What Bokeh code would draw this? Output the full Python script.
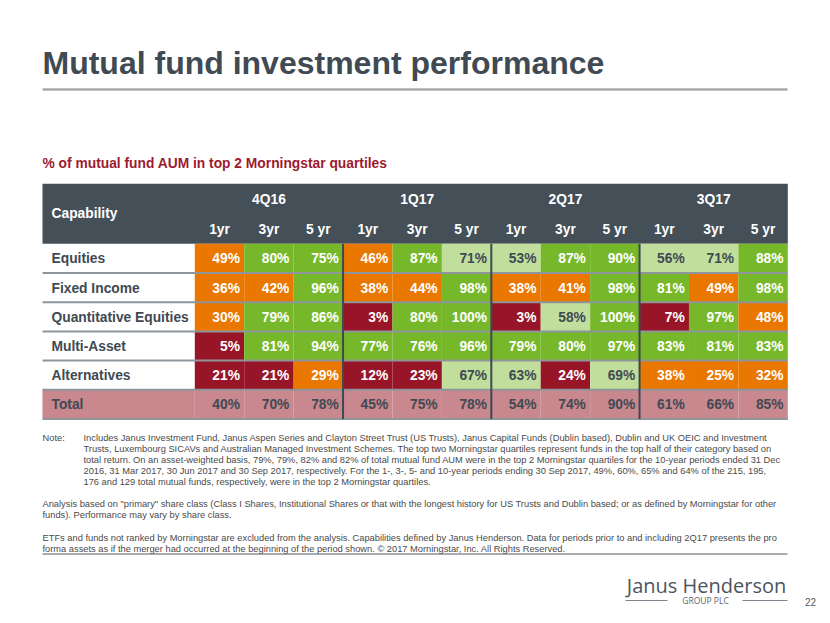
from bokeh.plotting import figure
from bokeh.models import Range1d
from bokeh.core.properties import value
from bokeh.embed import file_html
from bokeh.resources import INLINE

# ---------------- data ----------------
quarters = ["4Q16", "1Q17", "2Q17", "3Q17"]
periods = ["1yr", "3yr", "5 yr"]
capabilities = ["Equities", "Fixed Income", "Quantitative Equities", "Multi-Asset", "Alternatives", "Total"]
equities = [49, 80, 75, 46, 87, 71, 53, 87, 90, 56, 71, 88]
fixed_income = [36, 42, 96, 38, 44, 98, 38, 41, 98, 81, 49, 98]
quant_equities = [30, 79, 86, 3, 80, 100, 3, 58, 100, 7, 97, 48]
multi_asset = [5, 81, 94, 77, 76, 96, 79, 80, 97, 83, 81, 83]
alternatives = [21, 21, 29, 12, 23, 67, 63, 24, 69, 38, 25, 32]
total = [40, 70, 78, 45, 75, 78, 54, 74, 90, 61, 66, 85]
rows = [equities, fixed_income, quant_equities, multi_asset, alternatives, total]

title = "Mutual fund investment performance"
subtitle = "% of mutual fund AUM in top 2 Morningstar quartiles"
header_label = "Capability"
note_label = "Note:"
note_lines = [
    "Includes Janus Investment Fund, Janus Aspen Series and Clayton Street Trust (US Trusts), Janus Capital Funds (Dublin based), Dublin and UK OEIC and Investment",
    "Trusts, Luxembourg SICAVs and Australian Managed Investment Schemes. The top two Morningstar quartiles represent funds in the top half of their category based on",
    "total return. On an asset-weighted basis, 79%, 79%, 82% and 82% of total mutual fund AUM were in the top 2 Morningstar quartiles for the 10-year periods ended 31 Dec",
    "2016, 31 Mar 2017, 30 Jun 2017 and 30 Sep 2017, respectively. For the 1-, 3-, 5- and 10-year periods ending 30 Sep 2017, 49%, 60%, 65% and 64% of the 215, 195,",
    "176 and 129 total mutual funds, respectively, were in the top 2 Morningstar quartiles.",
]
analysis_lines = [
    "Analysis based on \"primary\" share class (Class I Shares, Institutional Shares or that with the longest history for US Trusts and Dublin based; or as defined by Morningstar for other",
    "funds). Performance may vary by share class.",
]
etf_lines = [
    "ETFs and funds not ranked by Morningstar are excluded from the analysis. Capabilities defined by Janus Henderson. Data for periods prior to and including 2Q17 presents the pro",
    "forma assets as if the merger had occurred at the beginning of the period shown. \u00a9 2017 Morningstar, Inc. All Rights Reserved.",
]
logo_main = "Janus Henderson"
logo_sub = "GROUP PLC"
page_number = "22"

# ---------------- style ----------------
FONT = value("Liberation Sans")
DARK = "#404a53"
HEADER = "#454f58"
ORANGE = "#e97700"
GREEN = "#77b82b"
LIGHT_GREEN = "#c1de9d"
RED = "#981427"
PINK = "#c9878e"
SUB_RED = "#9b1b30"
NOTE = "#4a4a4a"


def cell_color(v, is_total):
    if is_total:
        return PINK
    if v < 25:
        return RED
    if v < 50:
        return ORANGE
    if v < 75:
        return LIGHT_GREEN
    return GREEN


def text_color(v, is_total):
    if is_total or (50 <= v < 75):
        return DARK
    return "white"


W, H = 824, 615
p = figure(width=W, height=H, output_backend="svg", toolbar_location=None,
           x_range=Range1d(0, W), y_range=Range1d(H, 0),
           min_border=0, outline_line_color=None, background_fill_color="white")
p.axis.visible = False
p.xgrid.visible = False
p.ygrid.visible = False

# ---------------- title ----------------
p.text(x=[42], y=[62], text=[title], text_font=FONT, text_font_style="bold",
       text_font_size="32px", text_color=DARK, text_baseline="middle")
p.segment(x0=[42], y0=[89], x1=[787], y1=[89], line_color="#a7aaad", line_width=2.5)
p.text(x=[42], y=[163], text=[subtitle], text_font=FONT, text_font_style="bold",
       text_font_size="13.8px", text_color=SUB_RED, text_baseline="middle")

# ---------------- table geometry ----------------
TL, TR = 42.0, 787.3
LR = 194.3
ncol = len(quarters) * len(periods)
CW = (TR - LR) / ncol
HT, HB = 183.3, 243.3
RH = 29.2
TB = HB + RH * len(rows)

# header
p.quad(left=[TL], right=[TR], top=[HT], bottom=[HB], fill_color=HEADER, line_color=None)
p.text(x=[51], y=[213.3], text=[header_label], text_font=FONT, text_font_style="bold",
       text_font_size="13.8px", text_color="white", text_baseline="middle")
qx = [LR + CW * (3 * i + 1.5) for i in range(len(quarters))]
p.text(x=qx, y=[199] * len(quarters), text=quarters, text_font=FONT, text_font_style="bold",
       text_font_size="13.8px", text_color="white", text_baseline="middle", text_align="center")
px_, pt_ = [], []
for i in range(len(quarters)):
    for j, per in enumerate(periods):
        px_.append(LR + CW * (3 * i + j + 0.5))
        pt_.append(per)
p.text(x=px_, y=[229] * len(px_), text=pt_, text_font=FONT, text_font_style="bold",
       text_font_size="13.8px", text_color="white", text_baseline="middle", text_align="center")

# cells
L, R, T, B, FC, TX, TY, TT, TC = [], [], [], [], [], [], [], [], []
for r, vals in enumerate(rows):
    is_total = capabilities[r] == "Total"
    top = HB + r * RH
    for c, v in enumerate(vals):
        left = LR + c * CW
        L.append(left)
        R.append(left + CW)
        T.append(top)
        B.append(top + RH)
        FC.append(cell_color(v, is_total))
        TX.append(left + CW - 4.3)
        TY.append(top + RH / 2 + 0.5)
        TT.append(f"{v}%")
        TC.append(text_color(v, is_total))
p.quad(left=[TL], right=[LR], top=[HB + 5 * RH], bottom=[TB], fill_color=PINK, line_color=None)
p.quad(left=L, right=R, top=T, bottom=B, fill_color=FC, line_color=None)
p.text(x=TX, y=TY, text=TT, text_font=FONT, text_font_style="bold", text_font_size="13.8px",
       text_color=TC, text_baseline="middle", text_align="right")

# row labels
p.text(x=[51] * len(capabilities), y=[HB + RH * (r + 0.5) + 0.5 for r in range(len(capabilities))],
       text=capabilities, text_font=FONT, text_font_style="bold", text_font_size="13.8px",
       text_color=DARK, text_baseline="middle")

# row lines
ys = [HB + RH * r for r in range(1, len(rows) + 1)]
p.segment(x0=[TL] * len(ys), y0=ys, x1=[TR] * len(ys), y1=ys, line_color="#8e959b", line_width=2)
# quarter separators
xs = [LR + CW * 3 * k for k in range(1, len(quarters))]
p.segment(x0=xs, y0=[HB] * len(xs), x1=xs, y1=[TB] * len(xs), line_color="#3e4850", line_width=2)

# ---------------- notes ----------------
NFS = "9.3px"
p.text(x=[42], y=[437], text=[note_label], text_font=FONT, text_font_size=NFS,
       text_color=NOTE, text_baseline="middle")
p.text(x=[83] * len(note_lines), y=[437 + 11 * i for i in range(len(note_lines))], text=note_lines,
       text_font=FONT, text_font_size=NFS, text_color=NOTE, text_baseline="middle")
p.text(x=[42] * len(analysis_lines), y=[503 + 11 * i for i in range(len(analysis_lines))],
       text=analysis_lines, text_font=FONT, text_font_size=NFS, text_color=NOTE, text_baseline="middle")
p.text(x=[42] * len(etf_lines), y=[537 + 11 * i for i in range(len(etf_lines))],
       text=etf_lines, text_font=FONT, text_font_size=NFS, text_color=NOTE, text_baseline="middle")
p.segment(x0=[42], y0=[553.5], x1=[787], y1=[553.5], line_color="#555a5f", line_width=1)

# ---------------- logo ----------------
p.text(x=[706], y=[585], text=[logo_main], text_font=value("Open Sans"), text_font_size="20px",
       text_color="#4b5560", text_baseline="middle", text_align="center")
p.text(x=[705], y=[600], text=[logo_sub], text_font=value("Open Sans"), text_font_size="8.5px",
       text_color="#5b6670", text_baseline="middle", text_align="center")
p.segment(x0=[625, 742], y0=[600, 600], x1=[667, 787], y1=[600, 600],
          line_color="#7d868e", line_width=1)
p.text(x=[810], y=[601], text=[page_number], text_font=FONT, text_font_size="10px",
       text_color="#555a5f", text_baseline="middle", text_align="center")

open("out.html", "w").write(file_html(p, INLINE))
